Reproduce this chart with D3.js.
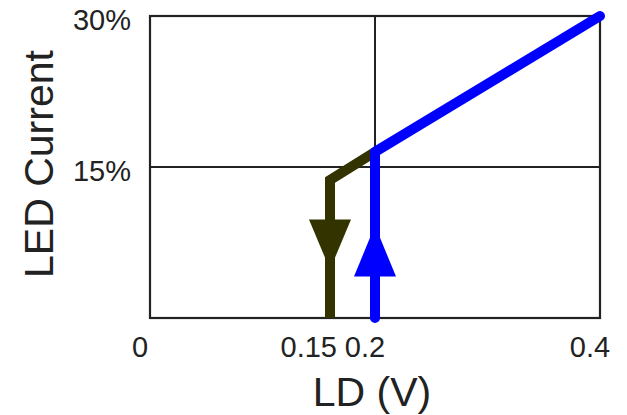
<!DOCTYPE html>
<html>
<head>
<meta charset="utf-8">
<script src="https://cdn.jsdelivr.net/npm/d3@7"></script>
<style>
  body { margin: 0; background: #fff; }
  text { font-family: "Liberation Sans", Arial, sans-serif; fill: #222; }
</style>
</head>
<body>
<div id="chart"></div>
<script>
// data
var xTicks = [0, 0.15, 0.2, 0.4];
var xTickLabels = ["0", "0.15", "0.2", "0.4"];
var yTicks = [15, 30];
var yTickLabels = ["15%", "30%"];

// rising path (blue) and falling path (dark)
var riseLD = [0.2, 0.2, 0.4];
var riseCurrent = [0, 16.5, 30];
var fallLD = [0.2, 0.16, 0.16];
var fallCurrent = [16.5, 13.7, 0];

// direction arrows: position and direction
var arrowLD = [0.16, 0.2];
var arrowCurrent = [7.3, 6.6];
var arrowDir = ["down", "up"];

var margin = {top: 16, right: 27, bottom: 97, left: 150}
    , width = 627 - margin.left - margin.right
    , height = 415 - margin.top - margin.bottom;

var x = d3.scaleLinear().domain([0, 0.4]).range([0, width]);
var y = d3.scaleLinear().domain([0, 30]).range([height, 0]);

var svg = d3.select("#chart").append("svg")
    .attr("width", 627)
    .attr("height", 415);

var main = svg.append("g")
    .attr("transform", "translate(" + margin.left + "," + margin.top + ")");

// gridlines
main.append("line")
    .attr("x1", x(0.2)).attr("x2", x(0.2))
    .attr("y1", 0).attr("y2", height)
    .attr("stroke", "#222").attr("stroke-width", 2);
main.append("line")
    .attr("x1", 0).attr("x2", width)
    .attr("y1", y(15)).attr("y2", y(15))
    .attr("stroke", "#222").attr("stroke-width", 2);

// frame
main.append("rect")
    .attr("x", 0).attr("y", 0)
    .attr("width", width).attr("height", height)
    .attr("fill", "none")
    .attr("stroke", "#222").attr("stroke-width", 2.2);

// tick labels
main.selectAll(".xlab")
    .data(xTicks)
    .enter().append("text")
    .attr("class", "xlab")
    .attr("x", function (d) { return x(d) - 10; })
    .attr("y", height + 39)
    .attr("text-anchor", "middle")
    .style("font-size", "29px")
    .text(function (d, i) { return xTickLabels[i]; });

main.selectAll(".ylab")
    .data(yTicks)
    .enter().append("text")
    .attr("class", "ylab")
    .attr("x", -19)
    .attr("y", function (d) { return y(d) + 14; })
    .attr("text-anchor", "end")
    .style("font-size", "29px")
    .text(function (d, i) { return yTickLabels[i]; });

// axis titles
svg.append("text")
    .attr("x", 372)
    .attr("y", 406)
    .attr("text-anchor", "middle")
    .style("font-size", "41px")
    .text("LD (V)");

svg.append("text")
    .attr("transform", "translate(53,164) rotate(-90)")
    .attr("text-anchor", "middle")
    .style("font-size", "41px")
    .text("LED Current");

var line = d3.line()
    .x(function (d) { return x(d[0]); })
    .y(function (d) { return y(d[1]); });

// falling path
main.append("path")
    .datum(d3.zip(fallLD, fallCurrent))
    .attr("d", line)
    .attr("fill", "none")
    .attr("stroke", "#333300")
    .attr("stroke-width", 10)
    .attr("stroke-linejoin", "miter");

// rising path
main.append("path")
    .datum(d3.zip(riseLD, riseCurrent))
    .attr("d", line)
    .attr("fill", "none")
    .attr("stroke", "#0000ff")
    .attr("stroke-width", 10)
    .attr("stroke-linecap", "round")
    .attr("stroke-linejoin", "round");

// arrows
var arrowColor = ["#333300", "#0000ff"];
main.selectAll(".arrow")
    .data(arrowLD)
    .enter().append("path")
    .attr("class", "arrow")
    .attr("transform", function (d, i) {
        return "translate(" + x(d) + "," + y(arrowCurrent[i]) + ")";
    })
    .attr("d", function (d, i) {
        return arrowDir[i] === "down"
            ? "M-21,-25L21,-25L0,25Z"
            : "M-21,25L21,25L0,-26Z";
    })
    .attr("fill", function (d, i) { return arrowColor[i]; });
</script>
</body>
</html>
